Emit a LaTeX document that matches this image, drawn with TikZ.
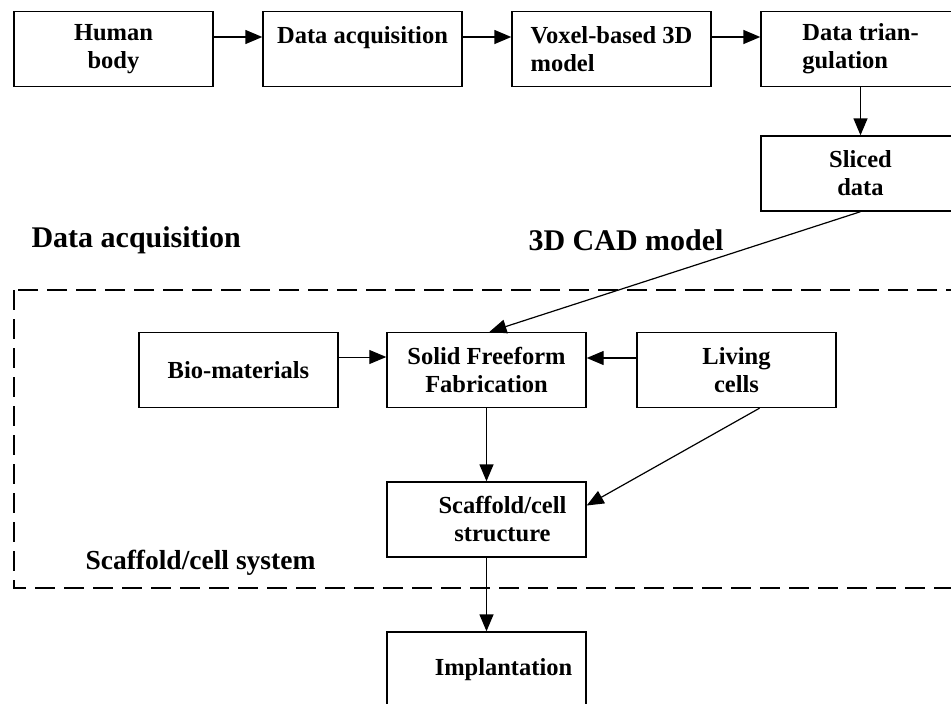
\documentclass[tikz,border=0pt]{standalone}
\usepackage{fontspec}
\setmainfont{Liberation Serif}
\usetikzlibrary{arrows.meta}
\begin{document}
\begin{tikzpicture}[x=1pt, y=1pt, node distance=249pt, auto,
		box/.style={draw, rectangle, line width=1.4pt, minimum width=199pt, minimum height=75pt,
			align=center, font=\bfseries\fontsize{24.5}{28}\selectfont},
		bigtext/.style={anchor=west, font=\bfseries\fontsize{30}{34}\selectfont},
		pfeil/.style={-{Triangle[length=17pt,width=14pt]}, line width=1.4pt}]
		\useasboundingbox (0,0) rectangle (951,-704);
		\clip (0,0) rectangle (951,-704);
		
		% top row
		\node (body) [box] at (113.5,-49) {Human\\body};
		\node (acq) [right of=body, box] {Data acquisition\\\mbox{}};
		\node (voxel) [right of=acq, box, align=left] {Voxel-based 3D\\model};
		\node (tri) [right of=voxel, box, align=left] {Data trian-\\gulation};
		\node (sliced) [below of=tri, box, node distance=124.5pt] {Sliced\\data};
		
		% scaffold/cell system
		\node (sff) [box] at (486.5,-370) {Solid Freeform\\Fabrication};
		\node (bio) [left of=sff, box, node distance=248pt] {Bio-materials};
		\node (cells) [right of=sff, box, node distance=250pt] {Living\\cells};
		\node (scaffold) [below of=sff, box, node distance=149.5pt] {\hspace*{32pt}Scaffold/cell\\\hspace*{32pt}structure};
		\node (implant) [below of=scaffold, box, node distance=150pt] {\hspace*{34pt}Implantation};
		
		\node (lblacq) [bigtext] at (28,-240) {Data acquisition};
		\node (lblcad) [bigtext] at (525,-240) {3D CAD model};
		\node (lblsys) [bigtext, font=\bfseries\fontsize{27.5}{31}\selectfont] at (82,-563) {Scaffold/cell system};
		
		\draw[dash pattern=on 20pt off 9pt, line width=1.6pt] (14,-290) rectangle (975,-588);
		
		\draw[pfeil] ([yshift=12pt]body.east) -- ([yshift=12pt]acq.west);
		\draw[pfeil] ([yshift=12pt]acq.east) -- ([yshift=12pt]voxel.west);
		\draw[pfeil] ([yshift=12pt]voxel.east) -- ([yshift=12pt]tri.west);
		\draw[pfeil] (tri) -- (sliced);
		\draw[pfeil, line width=1.2pt] (sliced.south) -- ([xshift=3pt]sff.north);
		\draw[pfeil, line width=1pt] ([yshift=13pt]bio.east) -- ([yshift=13pt]sff.west);
		\draw[pfeil] ([yshift=12pt]cells.west) -- ([yshift=12pt]sff.east);
		\draw[pfeil] (sff) -- (scaffold);
		\draw[pfeil, line width=1.2pt] ([xshift=23pt]cells.south) -- ([yshift=14pt]scaffold.east);
		\draw[pfeil] (scaffold) -- (implant);
	\end{tikzpicture}
\end{document}
